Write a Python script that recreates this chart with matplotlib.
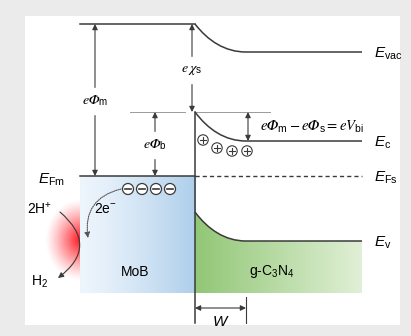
import numpy as np
import matplotlib
matplotlib.use("Agg")
import matplotlib.pyplot as plt
from matplotlib.path import Path
from matplotlib.patches import PathPatch, Rectangle, Circle, FancyArrowPatch

plt.rcParams['font.family'] = ['Liberation Sans', 'DejaVu Sans']
plt.rcParams['mathtext.fontset'] = 'custom'
plt.rcParams['mathtext.rm'] = 'Liberation Sans'
plt.rcParams['mathtext.it'] = 'Liberation Sans:italic'
plt.rcParams['mathtext.sf'] = 'Liberation Sans'

# Schematic levels (picture units, y grows downward)
x_left, x_junc, x_depl, x_right = 80, 195, 246, 362
E_vac_metal = 24
E_vac_bulk = 52
E_c_junc = 112
E_c_bulk = 141
E_F = 176
E_v_junc = 212
E_v_bulk = 241
y_bottom = 293

# charges
plus_x = [203, 217, 232, 247]
plus_y = [140, 148, 151, 151]
minus_x = [128, 142, 156, 170]
minus_y = [189, 189, 189, 189]

# labels
band_labels = [r'$\mathit{E}_{\mathrm{vac}}$', r'$\mathit{E}_{\mathrm{c}}$',
               r'$\mathit{E}_{\mathrm{Fs}}$', r'$\mathit{E}_{\mathrm{v}}$']
band_label_y = [E_vac_bulk, E_c_bulk, E_F, E_v_bulk]

dark = '#3a3a3a'
grey = '#9a9a9a'

fig = plt.figure(figsize=(4.11, 3.36), dpi=100)
fig.patch.set_facecolor('#ebebeb')
ax = fig.add_axes([0, 0, 1, 1])
ax.set_xlim(0, 411)
ax.set_ylim(336, 0)
ax.axis('off')

ax.add_patch(Rectangle((25, 16), 375, 309, facecolor='white', edgecolor='none', zorder=0))


def bend(y0, y1, x0=x_junc, x1=x_depl):
    # band bending drawn as a cubic bezier
    return [(x0, y0), (x0 + 13, y0 + 0.6 * (y1 - y0)), (x0 + 30, y1), (x1, y1)]


def arrow(p0, p1, style='-|>', lw=0.8, color=dark, ls='-', conn='arc3', ms=8):
    ax.add_patch(FancyArrowPatch(p0, p1, arrowstyle=style, mutation_scale=ms,
                                 lw=lw, color=color, linestyle=ls,
                                 connectionstyle=conn, shrinkA=0, shrinkB=0, zorder=5))


# red glow at the MoB surface
gx, gy = np.meshgrid(np.linspace(30, 130, 200), np.linspace(190, 290, 200))
r = np.hypot((gx - 80) * 1.05, (gy - 240) * 0.9)
glow = np.zeros(gx.shape + (4,))
glow[..., 0] = 1.0
glow[..., 1] = 0.08
glow[..., 2] = 0.12
glow[..., 3] = np.clip(1 - r / 37, 0, 1) ** 1.25
ax.imshow(glow, extent=(30, 130, 290, 190), aspect='auto', zorder=1, interpolation='bilinear')

# MoB block (blue gradient)
blue = np.ones((2, 200, 3))
t = np.linspace(0, 1, 200) ** 1.3
c0 = np.array([0.93, 0.96, 0.99])
c1 = np.array([0.68, 0.81, 0.92])
blue[:] = c0 + (c1 - c0) * t[:, None]
ax.imshow(blue, extent=(x_left, x_junc, y_bottom, E_F), aspect='auto', zorder=2)

# g-C3N4 block (green gradient under bent valence band)
vb = bend(E_v_junc, E_v_bulk)
verts = [vb[0], vb[1], vb[2], vb[3], (x_right, E_v_bulk), (x_right, y_bottom),
         (x_junc, y_bottom), vb[0]]
codes = [Path.MOVETO, Path.CURVE4, Path.CURVE4, Path.CURVE4, Path.LINETO,
         Path.LINETO, Path.LINETO, Path.CLOSEPOLY]
green_patch = PathPatch(Path(verts, codes), facecolor='none', edgecolor='none')
ax.add_patch(green_patch)
green = np.ones((2, 200, 3))
t = np.linspace(0, 1, 200)
g0 = np.array([0.57, 0.78, 0.46])
g1 = np.array([0.88, 0.94, 0.84])
green[:] = g0 + (g1 - g0) * t[:, None]
im = ax.imshow(green, extent=(x_junc, x_right, y_bottom, E_v_junc), aspect='auto', zorder=2)
im.set_clip_path(green_patch)
ax.set_xlim(0, 411)
ax.set_ylim(336, 0)

# band lines
for y0, y1 in [(E_vac_metal, E_vac_bulk), (E_c_junc, E_c_bulk), (E_v_junc, E_v_bulk)]:
    p = bend(y0, y1)
    path = Path(p + [(x_right, y1)], [Path.MOVETO, Path.CURVE4, Path.CURVE4, Path.CURVE4, Path.LINETO])
    ax.add_patch(PathPatch(path, facecolor='none', edgecolor=dark, lw=1.1, zorder=4))

ax.plot([x_left, x_junc], [E_vac_metal, E_vac_metal], color=dark, lw=1.1, zorder=4)
ax.plot([x_left, x_junc], [E_F, E_F], color=dark, lw=1.1, zorder=4)
ax.plot([x_junc, x_right], [E_F, E_F], color=dark, lw=1.0, ls=(0, (3, 2.2)), zorder=4)
ax.plot([x_junc, x_junc], [E_c_junc, 323], color=dark, lw=1.1, zorder=4)
ax.plot([130, 185], [E_c_junc, E_c_junc], color=grey, lw=0.7, zorder=3)
ax.plot([x_junc, 270], [E_c_junc, E_c_junc], color=grey, lw=0.7, zorder=3)

# energy arrows
arrow((95, E_F), (95, E_vac_metal), style='<|-|>')
arrow((192, E_vac_metal), (192, E_c_junc), style='<|-|>')
arrow((155, E_F), (155, E_c_junc), style='<|-|>')
arrow((248, E_c_junc), (248, E_c_bulk), style='<|-|>')

# depletion width
ax.plot([x_depl, x_depl], [297, 323], color=dark, lw=0.8, zorder=4)
arrow((x_junc, 308), (x_depl, 308), style='<|-|>')

# charges
for x, y in zip(plus_x, plus_y):
    ax.add_patch(Circle((x, y), 5.2, facecolor='white', edgecolor=dark, lw=0.8, zorder=6))
    ax.plot([x - 3, x + 3], [y, y], color=dark, lw=0.8, zorder=7)
    ax.plot([x, x], [y - 3, y + 3], color=dark, lw=0.8, zorder=7)
for x, y in zip(minus_x, minus_y):
    ax.add_patch(Circle((x, y), 5.5, facecolor='white', edgecolor=dark, lw=0.9, zorder=6))
    ax.plot([x - 3.2, x + 3.2], [y, y], color=dark, lw=1.2, zorder=7)

# electron transfer and HER
arrow((121, 189), (88, 238), ls=(0, (1, 1)), color='#555555', lw=0.8,
      conn='arc3,rad=0.45')
arrow((60, 212), (58, 278), color=dark, lw=0.8, conn='arc3,rad=-0.62')

# texts
for lab, y in zip(band_labels, band_label_y):
    ax.text(374, y + 2, lab, fontsize=11, ha='left', va='center')
ax.text(38, 180, r'$\mathit{E}_{\mathrm{Fm}}$', fontsize=11, ha='left', va='center')

ax.text(95, 101, r'$e𝛷_{\mathregular{m}}$', fontsize=10, ha='center', va='center',
        math_fontfamily='stix', backgroundcolor='white', zorder=8)
ax.text(192, 70, r'$e𝜒_{\mathregular{s}}$', fontsize=10, ha='center', va='center',
        math_fontfamily='stix', backgroundcolor='white', zorder=8)
ax.text(155, 145, r'$e𝛷_{\mathregular{b}}$', fontsize=10, ha='center', va='center',
        math_fontfamily='stix', backgroundcolor='white', zorder=8)
ax.text(260, 127, r'$e𝛷_{\mathregular{m}} - e𝛷_{\mathregular{s}} = eV_{\mathregular{bi}}$',
        fontsize=10.5, ha='left', va='center', math_fontfamily='stix')

ax.text(105, 209, r'2e$^{-}$', fontsize=10, ha='center', va='center')
ax.text(40, 209, r'2H$^{+}$', fontsize=10, ha='center', va='center')
ax.text(40, 282, r'H$_2$', fontsize=10, ha='center', va='center')
ax.text(135, 272, 'MoB', fontsize=10, ha='center', va='center')
ax.text(272, 272, r'g-C$_3$N$_4$', fontsize=10, ha='center', va='center')
ax.text(221, 322, r'$\mathit{W}$', fontsize=11, ha='center', va='center')

fig.savefig('out.png', dpi=100, facecolor=fig.get_facecolor())
